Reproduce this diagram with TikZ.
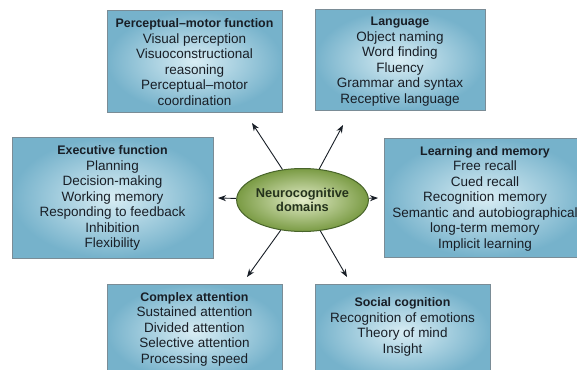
\documentclass[tikz,border=0pt]{standalone}
\usepackage{fontspec}
\setmainfont{Liberation Sans}
\usetikzlibrary{shapes.geometric,arrows.meta}
\definecolor{boxin}{RGB}{216,237,244}
\definecolor{boxout}{RGB}{118,178,203}
\definecolor{boxline}{RGB}{122,140,150}
\definecolor{ellin}{RGB}{226,236,200}
\definecolor{ellout}{RGB}{122,155,68}
\definecolor{ellline}{RGB}{72,100,42}
\definecolor{ink}{RGB}{24,30,38}
\definecolor{hubink}{RGB}{36,50,28}
\tikzset{
  dombox/.style={draw=boxline, line width=1pt, inner color=boxin, outer color=boxout,
    rectangle, inner sep=0pt},
  txt/.style={align=center, text=ink, font=\fontsize{13.5}{15.5}\selectfont, inner sep=0pt},
  hub/.style={ellipse, draw=ellline, line width=1pt, inner color=ellin, outer color=ellout,
    minimum width=117pt, minimum height=63pt, inner sep=0pt, align=center,
    font=\fontsize{12.8}{14.5}\selectfont\bfseries, text=hubink},
  arr/.style={draw=ink, line width=0.9pt, -{Stealth[length=8pt,width=6pt]}},
}
\newcommand{\hd}[1]{{\fontsize{12.4}{15.5}\selectfont\bfseries #1}}
\begin{document}
\begin{tikzpicture}[x=1pt,y=-1pt]
\useasboundingbox (0,0) rectangle (577,369);
\clip (0,0) rectangle (577,369);

% domain boxes
\node[dombox, minimum width=175pt, minimum height=101pt] (pm) at (194.5,61.5) {};
\node[txt] (pmt) at (194.5,62) {\hd{Perceptual--motor function}\\Visual perception\\Visuoconstructional\\reasoning\\Perceptual--motor\\coordination};

\node[dombox, minimum width=170pt, minimum height=100pt] (lang) at (400,60) {};
\node[txt] (langt) at (400,61.5) {\hd{Language}\\Object naming\\Word finding\\Fluency\\Grammar and syntax\\Receptive language};

\node[dombox, minimum width=201pt, minimum height=121pt] (ex) at (112.5,197.5) {};
\node[txt] (ext) at (112.5,198) {\hd{Executive function}\\Planning\\Decision-making\\Working memory\\Responding to feedback\\Inhibition\\Flexibility};

\node[dombox, minimum width=204pt, minimum height=119pt] (lm) at (486,197.5) {};
\node[txt] (lmt) at (485,198.5) {\hd{Learning and memory}\\Free recall\\Cued recall\\Recognition memory\\Semantic and autobiographical\\long-term memory\\Implicit learning};

\node[dombox, minimum width=175pt, minimum height=96pt] (ca) at (194.5,332) {};
\node[txt] (cat) at (194.5,329) {\hd{Complex attention}\\Sustained attention\\Divided attention\\Selective attention\\Processing speed};

\node[dombox, minimum width=175pt, minimum height=96pt] (sc) at (402.5,332) {};
\node[txt] (sct) at (402.5,327) {\hd{Social cognition}\\Recognition of emotions\\Theory of mind\\Insight};

% central hub
\node[hub] (hub) at (302.5,200) {Neurocognitive\\domains};

% arrow tips, short of each box
\coordinate (tpm) at (252,123);
\coordinate (tlang) at (343,125);
\coordinate (tex) at (218,198);
\coordinate (tlm) at (378,198);
\coordinate (tca) at (247,277);
\coordinate (tsc) at (347,277);

\draw[arr] (hub) -- (tpm);
\draw[arr] (hub) -- (tlang);
\draw[arr] (hub) -- (tex);
\draw[arr] (hub) -- (tlm);
\draw[arr] (hub) -- (tca);
\draw[arr] (hub) -- (tsc);
\end{tikzpicture}
\end{document}
